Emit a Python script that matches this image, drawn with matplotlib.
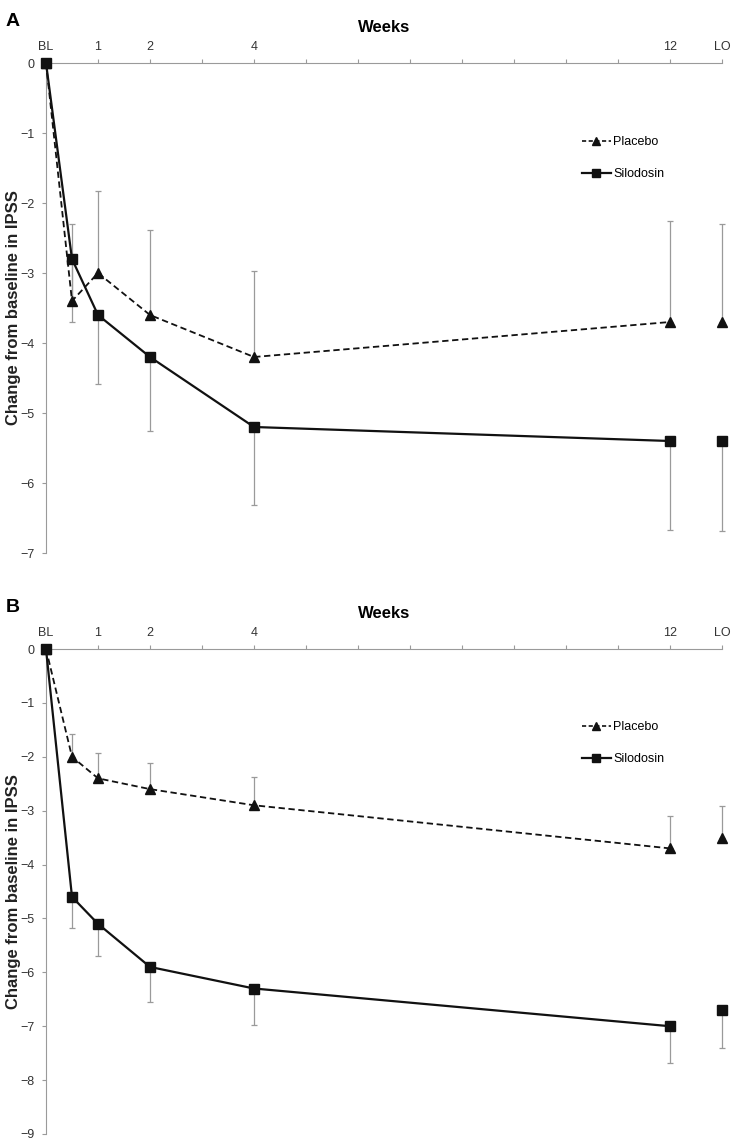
import matplotlib
matplotlib.use("Agg")
import matplotlib.pyplot as plt
from matplotlib.lines import Line2D

plt.rcParams['font.family'] = ['Liberation Sans', 'DejaVu Sans']

# x positions in weeks (BL=0, LO drawn at 13)
weeks = [0, 0.5, 1, 2, 4, 12]
lo_x = 13
tick_pos = list(range(14))
tick_lab = {0: 'BL', 1: '1', 2: '2', 4: '4', 12: '12', 13: 'LO'}

# panel A
a_plac = [0, -3.4, -3.0, -3.6, -4.2, -3.7]
a_plac_err = [0, 1.1, 1.17, 1.22, 1.23, 1.45]
a_plac_lo, a_plac_lo_err = -3.7, 1.4
a_silo = [0, -2.8, -3.6, -4.2, -5.2, -5.4]
a_silo_err = [0, 0.9, 0.98, 1.05, 1.12, 1.27]
a_silo_lo, a_silo_lo_err = -5.4, 1.28

# panel B
b_plac = [0, -2.0, -2.4, -2.6, -2.9, -3.7]
b_plac_err = [0, 0.42, 0.47, 0.48, 0.52, 0.6]
b_plac_lo, b_plac_lo_err = -3.5, 0.58
b_silo = [0, -4.6, -5.1, -5.9, -6.3, -7.0]
b_silo_err = [0, 0.57, 0.6, 0.65, 0.68, 0.68]
b_silo_lo, b_silo_lo_err = -6.7, 0.7

gray = '#9a9a9a'
tickfont = ['Liberation Sans Narrow', 'Liberation Sans', 'DejaVu Sans']

fig = plt.figure(figsize=(7.31, 11.4), dpi=100)


def panel(rect, ymin, plac, plac_err, plac_lo, plac_lo_err,
          silo, silo_err, silo_lo, silo_lo_err, letter, leg_y):
    ax = fig.add_axes(rect)
    ax.set_xlim(0, 13)
    ax.set_ylim(ymin, 0)
    # error bars (one-sided)
    ax.errorbar(weeks[1:] + [lo_x], plac[1:] + [plac_lo],
                yerr=[[0] * 6, plac_err[1:] + [plac_lo_err]],
                fmt='none', ecolor=gray, elinewidth=0.9, capsize=2.5,
                capthick=0.9, clip_on=False, zorder=2)
    ax.errorbar(weeks[1:] + [lo_x], silo[1:] + [silo_lo],
                yerr=[silo_err[1:] + [silo_lo_err], [0] * 6],
                fmt='none', ecolor=gray, elinewidth=0.9, capsize=2.5,
                capthick=0.9, clip_on=False, zorder=2)
    ax.plot(weeks, plac, color='#111111', ls=(0, (3.5, 2)), lw=1.3,
            marker='^', ms=6.5, clip_on=False, zorder=3)
    ax.plot([lo_x], [plac_lo], color='#111111', marker='^', ms=6.5,
            ls='none', clip_on=False, zorder=3)
    ax.plot(weeks, silo, color='#111111', lw=1.6, marker='s', ms=6.5,
            clip_on=False, zorder=4)
    ax.plot([lo_x], [silo_lo], color='#111111', marker='s', ms=6.5,
            ls='none', clip_on=False, zorder=4)

    ax.spines['right'].set_visible(False)
    ax.spines['bottom'].set_visible(False)
    ax.spines['top'].set_color(gray)
    ax.spines['left'].set_color(gray)
    ax.xaxis.tick_top()
    ax.xaxis.set_label_position('top')
    ax.set_xticks(tick_pos)
    ax.set_xticklabels([tick_lab.get(t, '') for t in tick_pos],
                       family=tickfont)
    ax.set_yticks(range(ymin, 1))
    ax.set_yticklabels([str(v).replace('-', '\u2212') for v in range(ymin, 1)],
                       family=tickfont)
    ax.tick_params(axis='both', color=gray, length=3, width=0.8,
                   labelsize=9, labelcolor='#333333')
    ax.tick_params(axis='y', pad=5)
    ax.tick_params(axis='x', pad=4)
    ax.set_xlabel('Weeks', fontsize=12, fontweight='bold', labelpad=7)
    ax.set_ylabel('Change from baseline in IPSS', fontsize=12,
                  fontweight='bold', color='#222222')
    ax.yaxis.set_label_coords(-0.037, 0.5)

    h = [Line2D([], [], color='#111111', ls=(0, (2.5, 1.5)), lw=1.2,
                marker='^', ms=6),
         Line2D([], [], color='#111111', lw=1.6, marker='s', ms=6)]
    ax.legend(h, ['Placebo', 'Silodosin'], loc='upper left',
              bbox_to_anchor=(0.776, leg_y), frameon=False, fontsize=9,
              handlelength=2.3, handletextpad=0.2, labelspacing=1.6)
    fig.text(0.008, rect[1] + rect[3] + 0.036, letter, fontsize=14,
             fontweight='bold', va='center')
    return ax


left, width = 46 / 731, 676 / 731
panel([left, 1 - 553 / 1140, width, 490 / 1140], -7,
      a_plac, a_plac_err, a_plac_lo, a_plac_lo_err,
      a_silo, a_silo_err, a_silo_lo, a_silo_lo_err, 'A', 0.874)
panel([left, 1 - 1134 / 1140, width, 485 / 1140], -9,
      b_plac, b_plac_err, b_plac_lo, b_plac_lo_err,
      b_silo, b_silo_err, b_silo_lo, b_silo_lo_err, 'B', 0.874)

fig.savefig('out.png', dpi=100)
